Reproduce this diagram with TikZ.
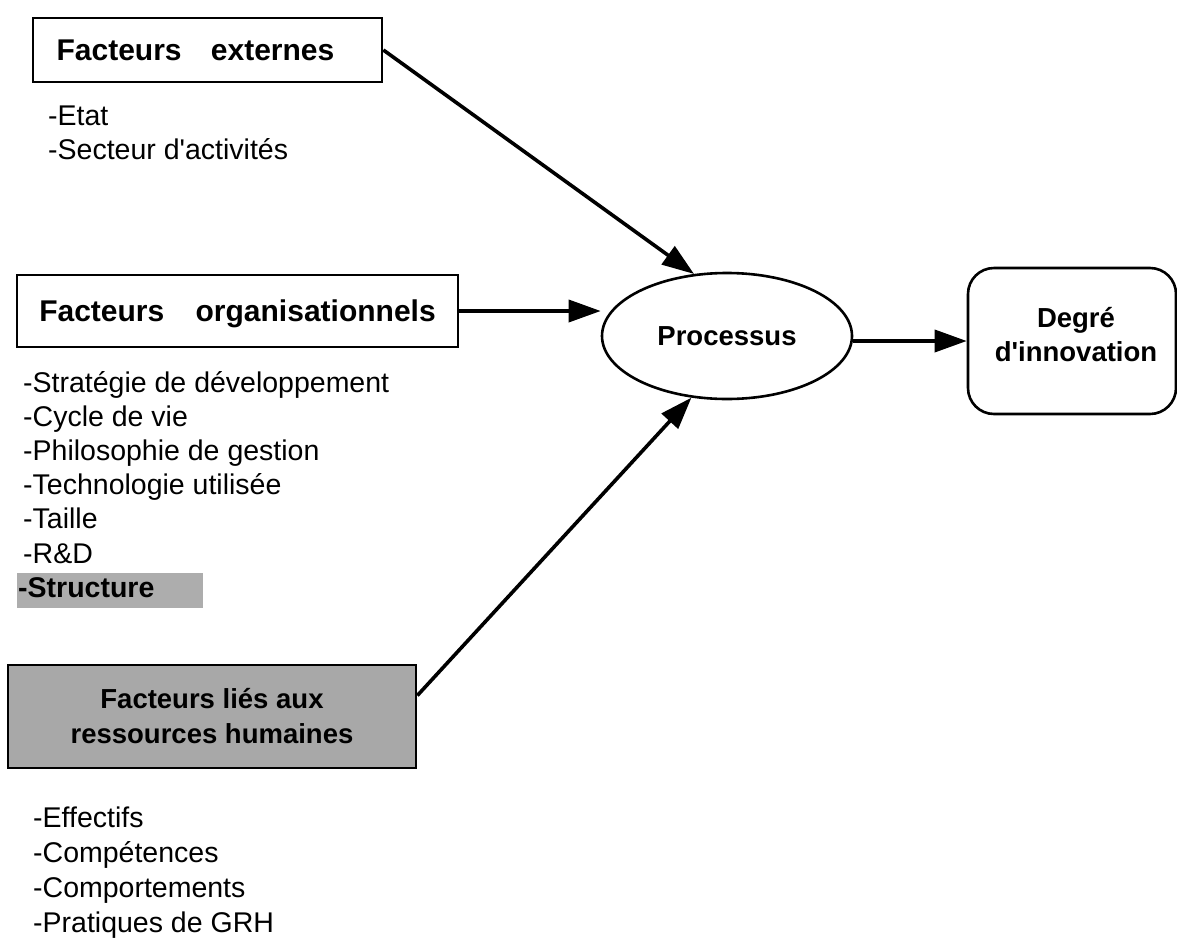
\documentclass[tikz,border=0pt]{standalone}
\usepackage{fontspec}
\setmainfont{Liberation Sans}
\usetikzlibrary{arrows.meta,shapes.geometric}
\begin{document}
\begin{tikzpicture}[x=1pt,y=-1pt,
  factbox/.style={draw, line width=2.7pt, rectangle, inner sep=0pt,
    font=\fontsize{30}{36}\selectfont\bfseries},
  hrbox/.style={draw, line width=2.7pt, rectangle, inner sep=0pt,
    fill=black!34, align=center, font=\fontsize{27.5}{35}\selectfont\bfseries},
  proc/.style={draw, line width=2.6pt, ellipse, inner sep=0pt,
    font=\fontsize{27.5}{34}\selectfont\bfseries},
  outcome/.style={draw, line width=2.6pt, rectangle, rounded corners=26pt, inner sep=0pt},
  outtext/.style={inner sep=0pt, align=center, font=\fontsize{27.5}{34}\selectfont\bfseries},
  item/.style={anchor=base west, inner sep=0pt, font=\fontsize{28.5}{34}\selectfont},
  flow/.style={line width=3.6pt, -{Triangle[length=32pt,width=22pt]}},
  hilite/.style={fill=black!32}
]
\useasboundingbox (0,0) rectangle (1177,937);

% --- factor boxes ---
\node[factbox, minimum width=349pt, minimum height=64pt, text height=21pt, text depth=0pt]
  (ext) at (207.5,50) {Facteurs\hspace{21pt} externes\kern24pt};
\node[factbox, minimum width=441pt, minimum height=72pt, text height=21pt, text depth=0pt]
  (org) at (237.5,311) {Facteurs\hspace{23pt} organisationnels};
\node[hrbox, minimum width=408pt, minimum height=103pt]
  (hr) at (212,716.5) {Facteurs liés aux\\ressources humaines};

% --- process and outcome ---
\node[proc, minimum width=250pt, minimum height=126pt] (p) at (727,336) {Processus};
\node[outcome, minimum width=208pt, minimum height=146pt] (deg) at (1072,341) {};
\node[outtext] (degtext) at ([xshift=4pt,yshift=6pt]deg.center)
  {Degré\\d\textquotesingle innovation};

% --- lists of factors ---
\foreach \t [count=\i] in {{-Etat},{-Secteur d\textquotesingle activités}}
  \node[item, name=extitem\i] at (48,{125+34*(\i-1)}) {\t};

\foreach \t [count=\i] in {{-Stratégie de développement},{-Cycle de vie},
    {-Philosophie de gestion},{-Technologie utilisée},{-Taille},{-R\&D}}
  \node[item, name=orgitem\i] at (23,{392+34.2*(\i-1)}) {\t};
\fill[hilite] (17,573) rectangle (203,608);
\node[item, font=\fontsize{28.5}{34}\selectfont\bfseries] (orgitem7) at (18,597) {-Structure};

\foreach \t [count=\i] in {{-Effectifs},{-Compétences},{-Comportements},{-Pratiques de GRH}}
  \node[item, name=hritem\i] at (33,{827+35*(\i-1)}) {\t};

% --- connectors ---
\draw[flow] (ext.east) -- (p.118);
\draw[flow] (org.east) -- (p.west |- org.east);
\draw[flow] ([yshift=21pt]hr.east) -- (p.240);
\draw[flow] (p.east |- deg.west) -- (deg.west);
\end{tikzpicture}
\end{document}
